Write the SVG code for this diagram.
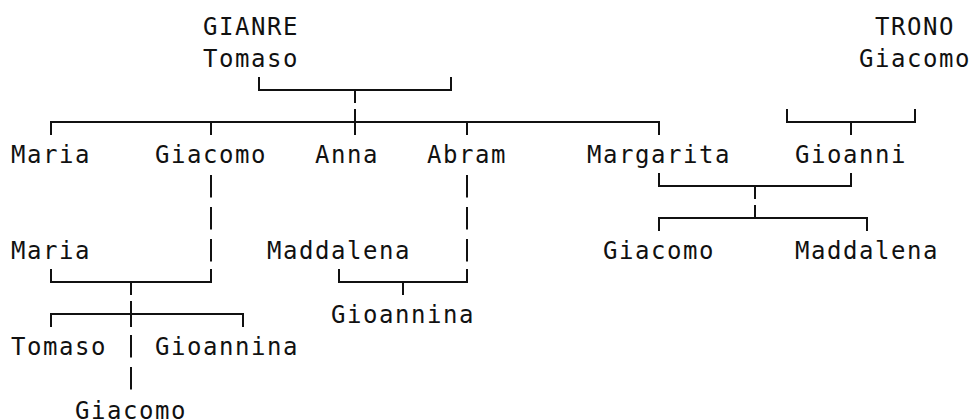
<svg xmlns="http://www.w3.org/2000/svg" width="973" height="420" viewBox="0 0 973 420">
<style>
text{font-family:"DejaVu Sans Mono","Liberation Mono",monospace;font-size:24px;letter-spacing:1.55px;fill:#111}
.c path{fill:none;stroke:#111;stroke-width:2;stroke-linecap:butt;stroke-linejoin:miter}
</style>
<rect width="973" height="420" fill="#fff"/>
<g class="c" id="connectors">
<path d="M259,77V90H451V77M355,90V103"/>
<path d="M51,135V122H659V135M211,122V135M467,122V135M355,109V135"/>
<path d="M787,109V122H915V109M851,122V135"/>
<path d="M211,175V197.5M211,207V229.5M211,239V261.5M467,175V197.5M467,207V229.5M467,239V261.5"/>
<path d="M659,173V186H851V173M755,186V199"/>
<path d="M659,231V218H867V231M755,205V218"/>
<path d="M51,269V282H211V269M131,282V295"/>
<path d="M339,269V282H467V269M403,282V295"/>
<path d="M51,327V314H243V327M131,301V327"/>
<path d="M131,335V357.5M131,367V389.5"/>
</g>
<g id="n_gianre_tomaso"><text x="203" y="34.5">GIANRE</text><text x="203" y="66.5">Tomaso</text></g>
<g id="n_trono_giacomo"><text x="875" y="34.5">TRONO</text><text x="859" y="66.5">Giacomo</text></g>
<g id="n_maria1"><text x="11" y="162.5">Maria</text></g>
<g id="n_giacomo1"><text x="155" y="162.5">Giacomo</text></g>
<g id="n_anna"><text x="315" y="162.5">Anna</text></g>
<g id="n_abram"><text x="427" y="162.5">Abram</text></g>
<g id="n_margarita"><text x="587" y="162.5">Margarita</text></g>
<g id="n_gioanni"><text x="795" y="162.5">Gioanni</text></g>
<g id="n_maria2"><text x="11" y="258.5">Maria</text></g>
<g id="n_maddalena1"><text x="267" y="258.5">Maddalena</text></g>
<g id="n_giacomo2"><text x="603" y="258.5">Giacomo</text></g>
<g id="n_maddalena2"><text x="795" y="258.5">Maddalena</text></g>
<g id="n_gioannina1"><text x="331" y="322.5">Gioannina</text></g>
<g id="n_tomaso2"><text x="11" y="354.5">Tomaso</text></g>
<g id="n_gioannina2"><text x="155" y="354.5">Gioannina</text></g>
<g id="n_giacomo3"><text x="75" y="418.5">Giacomo</text></g>
</svg>
